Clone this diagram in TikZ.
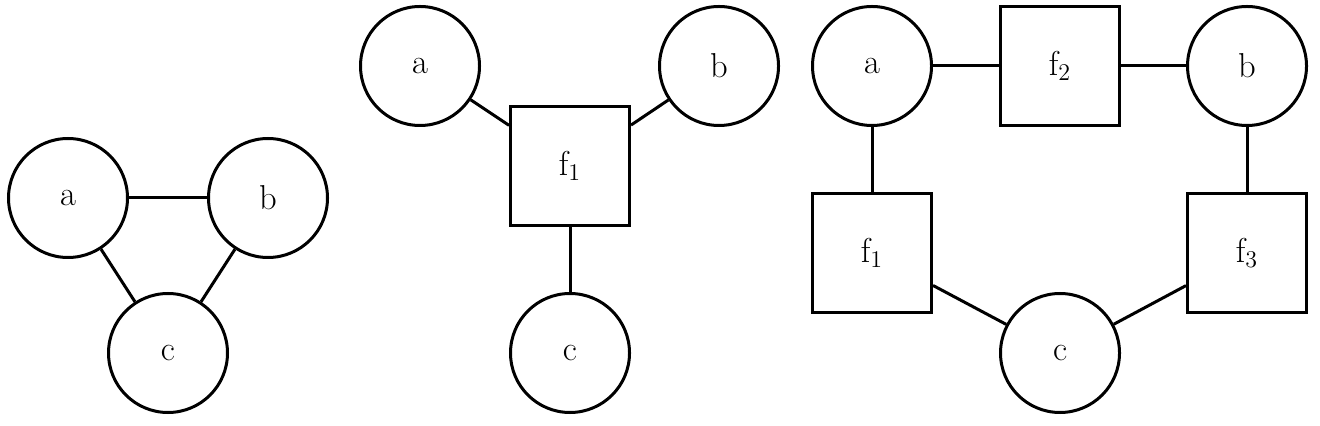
\documentclass[tikz,border=0pt]{standalone}
\begin{document}
\begin{tikzpicture}[x=0.5pt,y=-0.5pt,line width=1.5pt,
  var/.style={circle,draw,minimum size=59.5pt,inner sep=0pt,font=\LARGE},
  fac/.style={rectangle,draw,minimum size=59.5pt,inner sep=0pt,font=\LARGE}]

\useasboundingbox (0,0) rectangle (1320,426);
  % left
  \node[var] (la) at (68,198) {a};
  \node[var] (lb) at (268,198) {b};
  \node[var] (lc) at (168,353) {c};
  \draw (la) -- (lb);
  \draw (la) -- (lc);
  \draw (lb) -- (lc);
  % middle
  \node[var] (ma) at (420,66) {a};
  \node[var] (mb) at (719,66) {b};
  \node[fac] (mf1) at (570,166) {f$_1$};
  \node[var] (mc) at (570,353) {c};
  \draw (ma) -- (mf1);
  \draw (mb) -- (mf1);
  \draw (mf1) -- (mc);
  % right
  \node[var] (ra) at (872,66) {a};
  \node[fac] (rf2) at (1060,66) {f$_2$};
  \node[var] (rb) at (1247,66) {b};
  \node[fac] (rf1) at (872,253) {f$_1$};
  \node[fac] (rf3) at (1247,253) {f$_3$};
  \node[var] (rc) at (1060,353) {c};
  \draw (ra) -- (rf2);
  \draw (rf2) -- (rb);
  \draw (ra) -- (rf1);
  \draw (rb) -- (rf3);
  \draw (rf1) -- (rc);
  \draw (rf3) -- (rc);
 \end{tikzpicture}
\end{document}
